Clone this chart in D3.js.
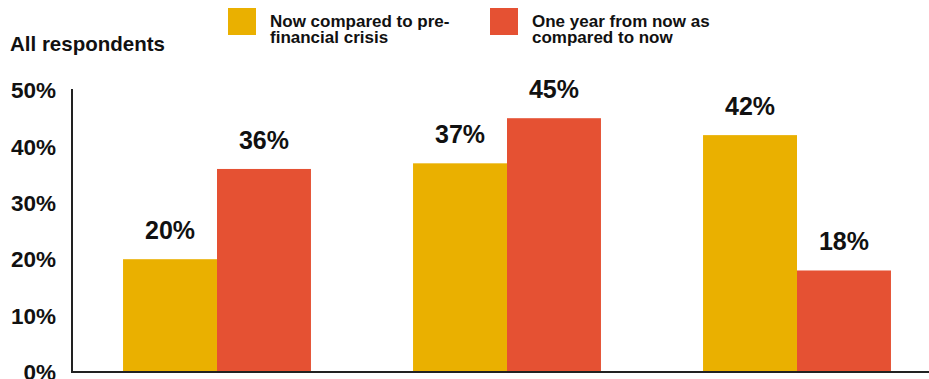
<!DOCTYPE html>
<html><head><meta charset="utf-8">
<script src="https://cdn.jsdelivr.net/npm/d3@7"></script>
<style>body{margin:0;background:#fff}svg{display:block;font-family:"Liberation Sans",Arial,sans-serif}</style>
</head><body><svg id="c" width="929" height="379"></svg>
<script>
const categories = ["A", "B", "C"];
const seriesNames = ["Now compared to pre-|financial crisis", "One year from now as|compared to now"];
const seriesNow = [20, 37, 42];
const seriesNext = [36, 45, 18];
const yTicks = [0, 10, 20, 30, 40, 50];
const colors = ["#EAB000", "#E55133"];

const svg = d3.select("#c");
const x0 = d3.scaleBand().domain(categories).range([72, 942]).paddingInner(0.352).paddingOuter(0.176);
const x1 = d3.scaleBand().domain([0, 1]).range([0, x0.bandwidth()]);
const y = d3.scaleLinear().domain([0, 50]).range([372, 90]);

const data = categories.map((c, i) => [seriesNow[i], seriesNext[i]]);

const g = svg.selectAll("g.grp").data(categories).join("g").attr("class", "grp")
  .attr("transform", d => `translate(${x0(d)},0)`);
g.selectAll("rect").data((d, i) => data[i].map((v, k) => ({v, k}))).join("rect")
  .attr("x", d => x1(d.k)).attr("width", x1.bandwidth())
  .attr("y", d => y(d.v)).attr("height", d => y(0) - y(d.v))
  .attr("fill", d => colors[d.k]);
g.selectAll("text").data((d, i) => data[i].map((v, k) => ({v, k}))).join("text")
  .attr("x", d => x1(d.k) + x1.bandwidth() / 2).attr("y", d => y(d.v) - 20)
  .attr("text-anchor", "middle").attr("font-weight", "bold").attr("font-size", 25).attr("fill", "#111")
  .text(d => d.v + "%");

// axes
svg.append("line").attr("x1", 72).attr("x2", 72).attr("y1", 89).attr("y2", 373).attr("stroke", "#222").attr("stroke-width", 2);
svg.append("line").attr("x1", 71).attr("x2", 929).attr("y1", 372).attr("y2", 372).attr("stroke", "#222").attr("stroke-width", 2);
svg.selectAll("text.yt").data(yTicks).join("text").attr("class", "yt")
  .attr("x", 56).attr("y", d => y(d)).attr("dy", "0.36em")
  .attr("text-anchor", "end").attr("font-weight", "bold").attr("font-size", 22.5).attr("fill", "#111")
  .text(d => d + "%");

svg.append("text").attr("x", 10).attr("y", 51).attr("font-weight", "bold").attr("font-size", 20.5).attr("fill", "#111").text("All respondents");

// legend
const legX = [228, 490];
seriesNames.forEach((n, k) => {
  svg.append("rect").attr("x", legX[k]).attr("y", 8).attr("width", 28).attr("height", 27).attr("fill", colors[k]);
  const t = svg.append("text").attr("x", legX[k] + 42).attr("y", 27).attr("font-weight", "bold").attr("font-size", 17).attr("fill", "#111");
  n.split("|").forEach((line, j) => t.append("tspan").attr("x", legX[k] + 42).attr("dy", j ? 16 : 0).text(line));
});
</script></body></html>
